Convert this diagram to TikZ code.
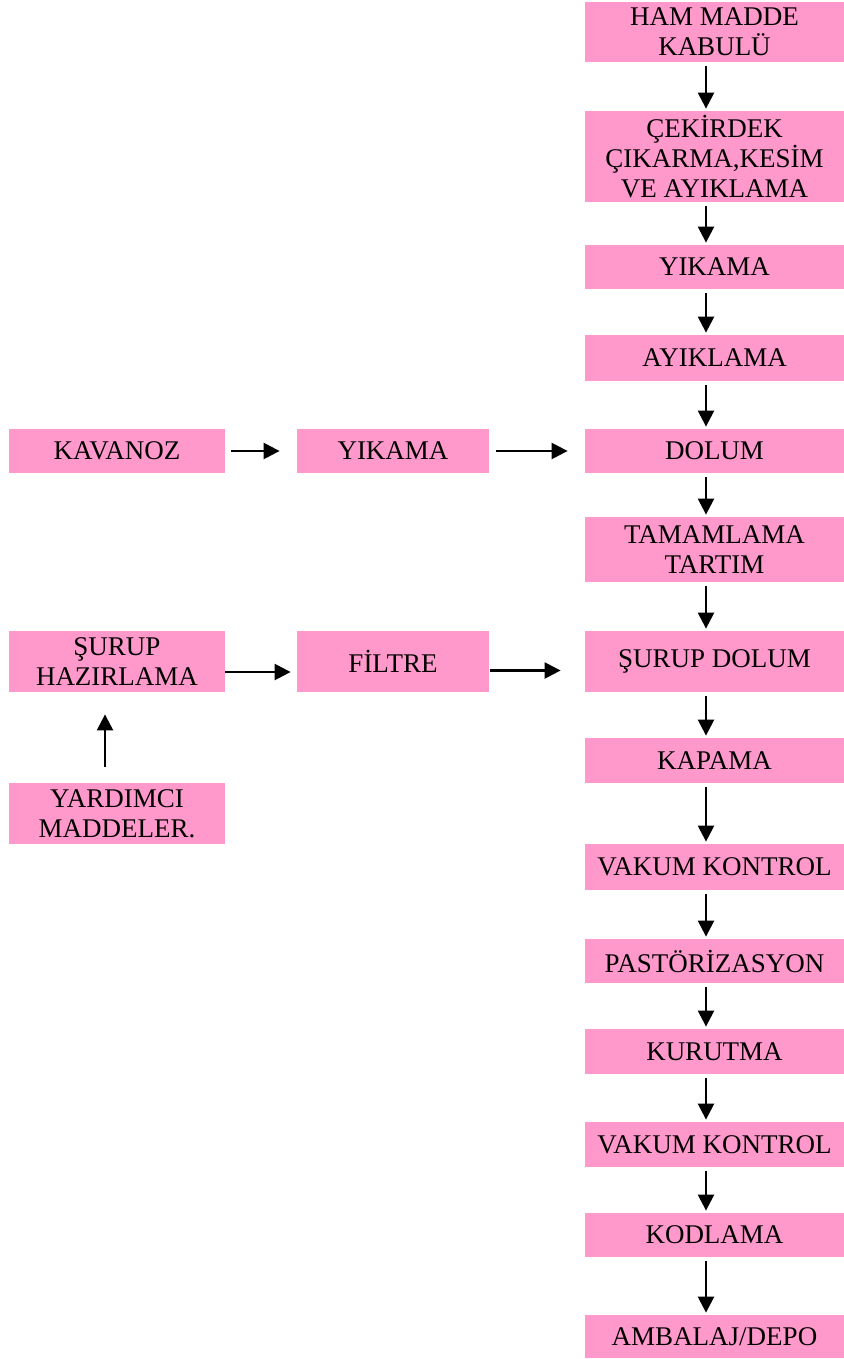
\documentclass[tikz,border=0pt]{standalone}
\usepackage{fontspec}
\setmainfont{Liberation Serif}
\usetikzlibrary{arrows.meta}
\definecolor{boxpink}{RGB}{255,153,204}

\begin{document}
\begin{tikzpicture}[x=.5pt,y=-.5pt,
    box/.style={fill=boxpink,inner sep=0pt,align=center,font=\fontsize{13.5}{15}\selectfont},
    arr/.style={-{Triangle[length=8pt,width=8pt]},line width=1.2pt}]
                \useasboundingbox (0,0) rectangle (844,1359);
                % main line
                \foreach \x/\y/\w/\h/\n/\t in {714.5/32/259/60/ham/HAM MADDE\\KABULÜ, 714.5/156.5/259/91/cek/{ÇEKİRDEK\\ÇIKARMA,KESİM\\VE AYIKLAMA}, 714.5/267/259/44/yik/YIKAMA, 714.5/358/259/46/ayik/AYIKLAMA, 714.5/451/259/44/dolum/DOLUM, 714.5/549.5/259/65/tam/TAMAMLAMA\\TARTIM, 714.5/661.5/259/61/sdolum/ŞURUP DOLUM, 714.5/760.5/259/45/kapama/KAPAMA, 714.5/867/259/46/vak1/VAKUM KONTROL, 714.5/961/259/44/past/PASTÖRİZASYON, 714.5/1051.5/259/45/kurut/KURUTMA, 714.5/1144.5/259/45/vak2/VAKUM KONTROL, 714.5/1235/259/44/kod/KODLAMA, 714.5/1336.5/259/43/amb/{AMBALAJ/DEPO}}
                \node[box,minimum width=\w*0.5pt,minimum height=\h*0.5pt] (\n) at (\x,\y) {\t};
                % side lines
                \foreach \x/\y/\w/\h/\n/\t in {117/451/216/44/kav/KAVANOZ, 393/451/192/44/lyik/YIKAMA, 117/661.5/216/61/hazir/ŞURUP\\HAZIRLAMA, 393/661.5/192/61/filtre/FİLTRE, 117/813.5/216/61/yard/YARDIMCI\\MADDELER.}
                \node[box,minimum width=\w*0.5pt,minimum height=\h*0.5pt] (\n) at (\x,\y) {\t};
                \foreach \s/\t in {ham/cek, cek/yik, yik/ayik, ayik/dolum, dolum/tam, tam/sdolum, sdolum/kapama, kapama/vak1, vak1/past, past/kurut, kurut/vak2, vak2/kod, kod/amb}
                \draw[arr,shorten <=2pt,shorten >=1pt] ([xshift=-4.25pt]\s.south) -- ([xshift=-4.25pt]\t.north);
                \draw[arr,shorten <=3pt,shorten >=8.5pt] (kav) -- (lyik);
                \draw[arr,shorten <=3.5pt,shorten >=8.5pt] (lyik) -- (dolum);
                \draw[arr,shorten >=3pt] ([yshift=-5.25pt]hazir.east) -- ([yshift=-5.25pt]filtre.west);
                \draw[arr,shorten <=0.5pt,shorten >=12pt] ([yshift=-4.5pt]filtre.east) -- ([yshift=-4.5pt]sdolum.west);
                \draw[arr,shorten <=8pt,shorten >=11pt] ([xshift=-6pt]yard.north) -- ([xshift=-6pt]hazir.south);

            \end{tikzpicture}
\end{document}
